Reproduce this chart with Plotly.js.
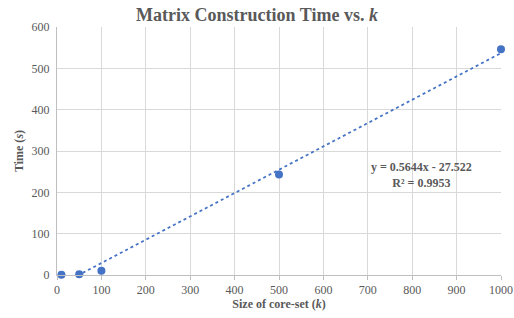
<!DOCTYPE html>
<html><head><meta charset="utf-8">
<script src="https://cdn.plot.ly/plotly-3.0.1.min.js"></script>
<style>html,body{margin:0;padding:0;background:#fff}#c{width:514px;height:318px}</style>
</head><body><div id="c"></div>
<script>
const kValues = [10, 50, 100, 500, 1000];
const timeValues = [0.5, 2, 10, 243, 546];
const slope = 0.5644;
const intercept = -27.522;
const rSquared = 0.9953;
const trendX = [10, 1000];
const trendY = trendX.map(x => slope * x + intercept);
const xTicks = [0,100,200,300,400,500,600,700,800,900,1000];
const yTicks = [0,100,200,300,400,500,600];

const font = "Liberation Serif, Times New Roman, serif";
const grey = "#595959";

Plotly.newPlot('c', [
  {x: trendX, y: trendY, mode: 'lines', line: {color: '#4472C4', width: 1.75, dash: 'dot'}, hoverinfo: 'skip', showlegend: false},
  {x: kValues, y: timeValues, mode: 'markers', marker: {color: '#4472C4', size: 8}, showlegend: false, cliponaxis: false}
], {
  width: 514, height: 318,
  margin: {l: 57, r: 13, t: 27, b: 43},
  paper_bgcolor: '#fff', plot_bgcolor: '#fff',
  font: {family: font, color: grey},
  title: {text: '<b>Matrix Construction Time vs. <i>k</i></b>', font: {family: font, size: 18, color: grey}, x: 0.5, xanchor: 'center', y: 0.955, yanchor: 'middle'},
  xaxis: {
    range: [0, 1000], tickvals: xTicks, ticktext: xTicks.map(String),
    showgrid: true, gridcolor: '#d9d9d9', gridwidth: 1,
    showline: true, linecolor: '#bfbfbf', zeroline: false,
    ticks: 'outside', ticklen: 4, tickcolor: '#bfbfbf',
    tickfont: {family: font, size: 12, color: grey},
    title: {text: '<b>Size of core-set (<i>k</i>)</b>', font: {family: font, size: 12, color: grey}, standoff: 3}
  },
  yaxis: {
    range: [0, 600], tickvals: yTicks, ticktext: yTicks.map(String),
    showgrid: true, gridcolor: '#d9d9d9', gridwidth: 1,
    showline: true, linecolor: '#bfbfbf', zeroline: false,
    ticks: 'outside', ticklen: 4, tickcolor: 'rgba(0,0,0,0)',
    tickfont: {family: font, size: 12, color: grey},
    title: {text: '<b>Time (<i>s</i>)</b>', font: {family: font, size: 12, color: grey}, standoff: 5}
  },
  annotations: [
    {x: 0.822, y: 0.405, xref: 'paper', yref: 'paper', xanchor: 'center', yanchor: 'middle', showarrow: false,
     align: 'center',
     text: '<b>y = ' + slope + 'x - ' + Math.abs(intercept) + '</b><br><b>R² = ' + rSquared + '</b>',
     font: {family: font, size: 12, color: grey}}
  ]
}, {displayModeBar: false, staticPlot: true});
</script></body></html>
